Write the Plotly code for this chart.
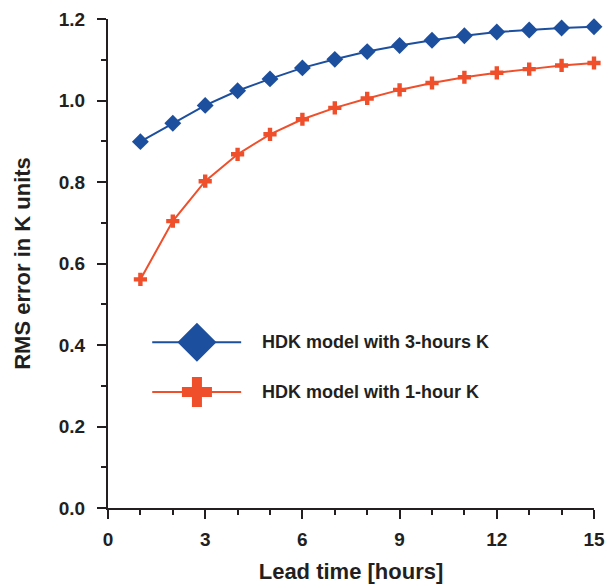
import plotly.graph_objects as go

lead_hours = list(range(1, 16))
rms_3h = [0.899, 0.944, 0.988, 1.024, 1.053, 1.080, 1.101, 1.120, 1.135,
          1.148, 1.159, 1.168, 1.173, 1.178, 1.181]
rms_1h = [0.561, 0.704, 0.802, 0.868, 0.917, 0.954, 0.982, 1.005, 1.026,
          1.043, 1.057, 1.068, 1.077, 1.086, 1.092]
series_names = ["HDK model with 3-hours K", "HDK model with 1-hour K"]

BLUE = "#1d4f9f"
RED = "#ef4f2b"
INK = "#231f20"
FONT = "Liberation Sans"

fig = go.Figure()
fig.add_trace(go.Scatter(
    x=lead_hours, y=rms_3h, mode="lines+markers", name=series_names[0],
    line=dict(color=BLUE, width=2),
    marker=dict(symbol="diamond", size=13, color=BLUE),
    cliponaxis=False, showlegend=False))
fig.add_trace(go.Scatter(
    x=lead_hours, y=rms_1h, mode="lines+markers", name=series_names[1],
    line=dict(color=RED, width=2),
    marker=dict(symbol="cross", size=11, color=RED, line=dict(width=0)),
    cliponaxis=False, showlegend=False))

# Hand-built legend with long sample lines and large markers
legend_rows = [(0.339, BLUE, "diamond", 30), (0.237, RED, "cross", 25)]
for (yp, col, sym, sz), label in zip(legend_rows, series_names):
    fig.add_shape(type="line", xref="paper", yref="paper",
                  x0=0.091, x1=0.274, y0=yp, y1=yp,
                  line=dict(color=col, width=2))
    fig.add_trace(go.Scatter(
        x=[0.183], y=[yp], xaxis="x2", yaxis="y2", mode="markers",
        marker=dict(symbol=sym, size=sz, color=col, line=dict(width=0)),
        showlegend=False, hoverinfo="skip", cliponaxis=False))
    fig.add_annotation(xref="paper", yref="paper", x=0.313, y=yp,
                       xanchor="left", yanchor="middle", showarrow=False,
                       text=label,
                       font=dict(family=FONT, size=18, color=INK,
                                 weight="bold"))

axis_common = dict(
    showline=True, linecolor=INK, linewidth=2, showgrid=False, zeroline=False,
    ticks="outside", ticklen=9, tickwidth=2, tickcolor=INK,
    tickfont=dict(family=FONT, size=19, color=INK, weight="bold"),
    automargin=False,
)
title_font = dict(family=FONT, size=22, color=INK, weight="bold")

fig.update_layout(
    width=605, height=586,
    margin=dict(l=108, r=11, t=19, b=78),
    plot_bgcolor="white", paper_bgcolor="white",
    xaxis=dict(range=[0, 15], tickvals=[0, 3, 6, 9, 12, 15],
               minor=dict(dtick=1, ticks="outside", ticklen=5, tickwidth=2,
                          tickcolor=INK, showgrid=False),
               title=dict(text="Lead time [hours]", standoff=15,
                          font=title_font),
               ticklabelstandoff=4,
               **axis_common),
    yaxis=dict(range=[0, 1.2], tickvals=[0, 0.2, 0.4, 0.6, 0.8, 1.0, 1.2],
               tickformat=".1f",
               minor=dict(dtick=0.1, ticks="outside", ticklen=5, tickwidth=2,
                          tickcolor=INK, showgrid=False),
               title=dict(text="RMS error in K units", standoff=22,
                          font=title_font),
               ticklabelstandoff=8,
               **axis_common),
    xaxis2=dict(range=[0, 1], overlaying="x", visible=False),
    yaxis2=dict(range=[0, 1], overlaying="y", visible=False),
    showlegend=False,
)

fig.write_html("out.html")
